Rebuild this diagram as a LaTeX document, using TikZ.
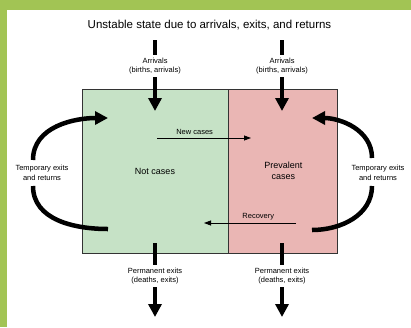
\documentclass[tikz,border=0pt]{standalone}
\usepackage{fontspec}
\setmainfont{Liberation Sans}
\usetikzlibrary{arrows.meta}
\definecolor{framegreen}{RGB}{162,196,84}
\definecolor{notcasefill}{RGB}{198,226,198}
\definecolor{casefill}{RGB}{234,182,180}
\begin{document}
\begin{tikzpicture}[x=1pt,y=-1pt]\tikzstyle{every node}=[font=\fontsize{7.5}{9.5}\selectfont, align=center, inner sep=3pt]
\tikzstyle{state}=[draw=black!80, line width=0.8pt, minimum height=164pt, inner sep=0pt, font=\fontsize{9}{10.5}\selectfont]
\tikzstyle{stub}=[line width=4pt]
\tikzstyle{flow}=[line width=3.5pt, -{Triangle[width=13pt,length=13pt]}]
\tikzstyle{loop}=[line width=4.5pt]
\tikzstyle{move}=[line width=0.8pt, -{Triangle[width=5pt,length=7pt]}]
% frame
\useasboundingbox (0,0) rectangle (411,327);
\fill[white] (0,0) rectangle (411,327);
\fill[framegreen] (0,0) rectangle (411,10);
\fill[framegreen] (0,0) rectangle (7,327);
% title
\node[font=\fontsize{11.5}{13}\selectfont] (title) at (209.5,25) {Unstable state due to arrivals, exits, and returns};
% states
\node[state, fill=notcasefill, minimum width=146pt] (notcases) at (155,171) {Not cases};
\node[state, fill=casefill, minimum width=109pt, anchor=west] (prevalent) at (notcases.east) {Prevalent\\cases};
% arrivals
\coordinate (inL) at (155,40);
\coordinate (inR) at (282,40);
\node (arrL) at (155,66) {Arrivals\\(births, arrivals)};
\node (arrR) at (282,66) {Arrivals\\(births, arrivals)};
\coordinate (tipL) at (155,111);
\coordinate (tipR) at (282,111);
\draw[stub] (inL) -- (arrL.north);
\draw[stub] (inR) -- (arrR.north);
\draw[flow] (arrL.south) -- (tipL);
\draw[flow] (arrR.south) -- (tipR);
% permanent exits
\coordinate (outL) at (155,243);
\coordinate (outR) at (282,243);
\node (exL) at (155,276) {Permanent exits\\(deaths, exits)};
\node (exR) at (282,276) {Permanent exits\\(deaths, exits)};
\coordinate (endL) at (155,317);
\coordinate (endR) at (282,317);
\draw[stub] (outL) -- (exL.north);
\draw[stub] (outR) -- (exR.north);
\draw[flow] (exL.south) -- (endL);
\draw[flow] (exR.south) -- (endR);
% new cases and recovery
\coordinate (ncA) at (157,138);
\coordinate (ncB) at (251,138);
\draw[move] (ncA) -- node[above, pos=0.4] {New cases} (ncB);
\coordinate (rcA) at (296,223);
\coordinate (rcB) at (204,223);
\draw[move] (rcA) -- node[above, pos=0.41] {Recovery} (rcB);
% temporary exits and returns
\node (tmpL) at (42,173) {Temporary exits\\and returns};
\node (tmpR) at (378,173) {Temporary exits\\and returns};
\coordinate (leaveL) at (108,229);
\coordinate (lowL) at (33,186);
\coordinate (highL) at (33,160);
\coordinate (backL) at (108,118);
\coordinate (leaveR) at (312,230);
\coordinate (lowR) at (372,186);
\coordinate (highR) at (372,158);
\coordinate (backR) at (312,118);
\draw[loop] (leaveL) to[out=180, in=-90] (lowL);
\draw[flow, line width=4.5pt] (highL) to[out=90, in=180] (backL);
\draw[loop] (leaveR) to[out=0, in=-90] (lowR);
\draw[flow, line width=4.5pt] (highR) to[out=90, in=0] (backR);
\end{tikzpicture}
\end{document}
